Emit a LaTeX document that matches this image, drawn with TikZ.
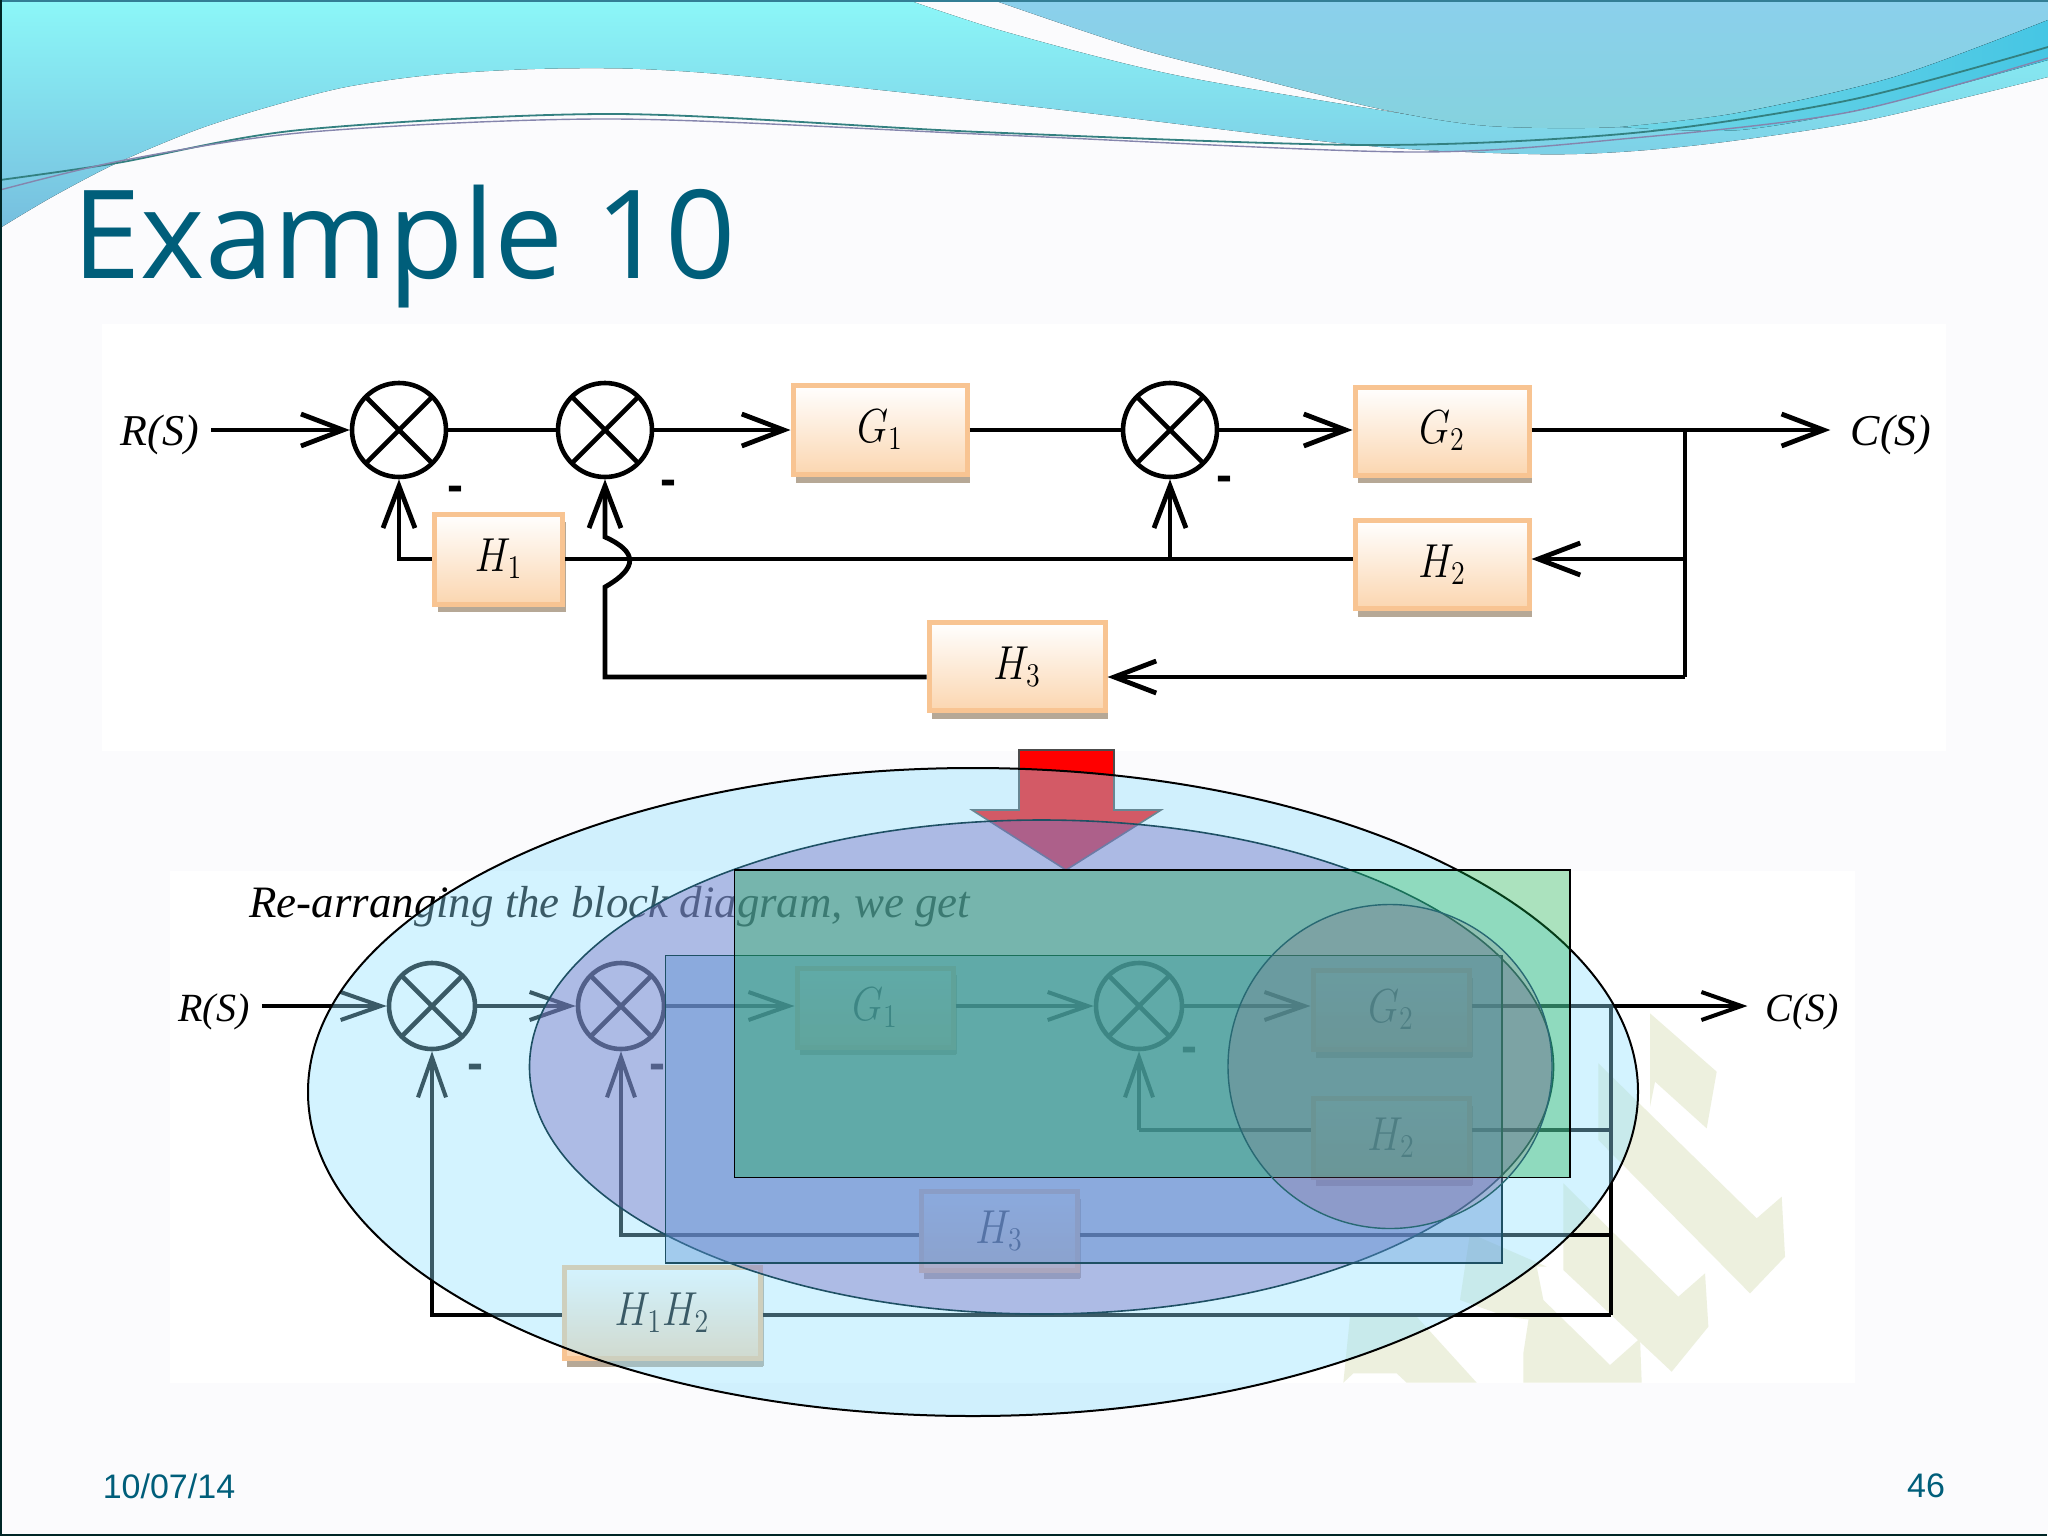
\documentclass[tikz,border=0pt]{standalone}
\usepackage{fontspec}
\usepackage{graphicx}
\setmainfont{Liberation Serif}
\newfontfamily\titlefont{Open Sans}
\newfontfamily\footfont{Liberation Sans}
\usetikzlibrary{arrows.meta,shadows}

\definecolor{slidebg}{RGB}{251,251,253}
\definecolor{tealtext}{RGB}{0,94,122}
\definecolor{wavecyan}{RGB}{140,247,248}
\definecolor{wavelow}{RGB}{118,190,222}
\definecolor{waveblue}{RGB}{139,208,236}
\definecolor{wavegreen}{RGB}{133,210,222}
\definecolor{bandleft}{RGB}{112,214,230}
\definecolor{bandright}{RGB}{70,198,228}
\definecolor{boxedge}{RGB}{248,196,146}
\definecolor{boxfill}{RGB}{251,214,176}
\definecolor{boxshade}{RGB}{182,168,150}
\definecolor{crest}{RGB}{237,240,222}
\definecolor{bigblue}{RGB}{145,225,255}
\definecolor{midviolet}{RGB}{118,105,192}
\definecolor{rectblue}{RGB}{90,145,210}
\definecolor{rectgreen}{RGB}{17,172,70}
\definecolor{roundplum}{RGB}{150,95,130}
\definecolor{overedge}{RGB}{30,80,100}
\definecolor{roundedge}{RGB}{40,105,115}

\newcommand{\gainsym}[1]{\scalebox{0.97}[1.15]{$#1$}}

\tikzstyle{block} = [rectangle, draw=boxedge, line width=2.5pt, top color=white, bottom color=boxfill, inner sep=0pt, drop shadow={shadow xshift=1.5pt, shadow yshift=-4pt, fill=boxshade, opacity=1}]
\tikzstyle{lowblock} = [block, drop shadow={shadow xshift=2pt, shadow yshift=-3.5pt, fill=boxshade, opacity=1}]
\tikzstyle{sumjoint} = [circle, draw, line width=2.3pt, minimum size=47pt, inner sep=0pt, path picture={
	\draw[line width=2.3pt] (path picture bounding box.north west) -- (path picture bounding box.south east);
	\draw[line width=2.3pt] (path picture bounding box.north east) -- (path picture bounding box.south west);}]
\tikzstyle{lowjoint} = [sumjoint, minimum size=43pt]
\tikzstyle{sig} = [font=\fontsize{22}{26}\selectfont\itshape, inner sep=6pt]
\tikzstyle{lowsig} = [font=\fontsize{20}{24}\selectfont\itshape, inner sep=6pt]
\tikzstyle{gain} = [font=\fontsize{20.74}{25}\selectfont]
\tikzstyle{minus} = [font=\footfont\bfseries\fontsize{24}{24}\selectfont, inner sep=0pt]
\tikzstyle{wire} = [line width=2.4pt]
\tikzstyle{feed} = [wire, -{Straight Barb[length=21pt,width=16pt]}]
\tikzstyle{lowwire} = [line width=2pt]
\tikzstyle{lowfeed} = [lowwire, -{Straight Barb[length=20pt,width=14pt]}]
\tikzstyle{overlay} = [draw=overedge, line width=0.8pt]

\begin{document}
\begin{tikzpicture}[x=0.5pt,y=-0.5pt]
\useasboundingbox (0,0) rectangle (2048,1536);
\fill[slidebg] (0,0) rectangle (2048,1536);

% header waves
\fill[top color=wavecyan, bottom color=wavelow] (0,0) -- (908,0) -- plot[smooth] coordinates {(908,0) (1006,32) (1175,75) (1411,115) (1489,125)} -- (1620,120) -- (2048,20) -- plot[smooth] coordinates {(2048,77) (1868,120) (1724,142) (1620,152) (1528,154) (1358,145) (1045,108) (764,78) (640,69) (535,69) (431,75) (346,87) (268,107) (196,130) (117,163) (52,197) (0,228)} -- cycle;
\fill[top color=waveblue, bottom color=wavegreen] (993,0) -- plot[smooth] coordinates {(993,0) (1136,48) (1254,78) (1385,110) (1489,126) (1620,127) (1737,113) (1894,77) (2048,20)} -- (2048,0) -- cycle;
\fill[left color=bandleft, right color=bandright] (1620,127) -- plot[smooth] coordinates {(1620,127) (1737,113) (1894,77) (2048,20)} -- plot[smooth] coordinates {(2048,60) (1880,105) (1740,130) (1620,127)} -- cycle;
\draw[teal!60!gray, line width=0.9pt] plot[smooth] coordinates {(0,180) (117,163) (300,130) (614,114) (980,132) (1371,145) (1633,133) (1850,100) (2048,47)};
\draw[blue!20!gray!80, line width=0.7pt] plot[smooth] coordinates {(0,190) (125,160) (310,132) (614,119) (1000,135) (1410,152) (1633,138) (1850,112) (2048,58)};
\draw[tealtext!80, line width=1.4pt] (0,1) -- (2048,1);

% title and footer
\node[font=\titlefont\fontsize{61.5}{66}\selectfont, text=tealtext, inner sep=0pt, anchor=base west] (title) at (72,278) {Example 10};
\node[font=\footfont\fontsize{17}{20}\selectfont, text=tealtext, inner sep=0pt] (date) at (169,1486) {10/07/14};
\node[font=\footfont\fontsize{17}{20}\selectfont, text=tealtext, inner sep=0pt] (page) at (1926,1486) {46};

% panels
\fill[white] (102,324) rectangle (1946,751);
\fill[white] (170,871) rectangle (1855,1383);
\begin{scope}[shift={(1320,1000)},x=0.16667pt,y=-0.16667pt,crest]
	\fill (990,40) -- (1190,215) -- (1160,385) -- (1005,245) -- (990,320) -- cycle;
	\fill (835,190) -- (1310,655) -- (1385,590) -- (1395,770) -- (1290,880) -- (835,420) -- cycle;
	\fill (730,550) -- (1075,890) -- (1155,820) -- (1165,980) -- (1055,1115) -- (730,810) -- cycle;
	\fill (670,900) -- (870,1095) -- (960,1015) -- (965,1148) -- (610,1148) -- (610,1060) -- (650,800) -- cycle;
	\fill (420,900) -- (450,700) -- (680,800) -- (650,800) -- (640,960) -- (560,950) -- cycle;
	\fill (70,1148) -- (100,1120) -- (230,1120) -- (260,1148) -- (470,1148) -- (290,950) -- (90,950) -- cycle;
\end{scope}

% first diagram
\node[sig] (inA) at (160,435) {R(S)};
\node[sumjoint] (sumA) at (399,430) {};
\node[sumjoint] (sumB) at (605,430) {};
\node[block, gain, minimum width=87pt, minimum height=44.5pt] (gOne) at (880,430) {\gainsym{G_1}};
\node[sumjoint] (sumC) at (1170,430) {};
\node[block, gain, minimum width=87pt, minimum height=44pt] (gTwo) at (1442,431) {\gainsym{G_2}};
\node[sig, inner sep=10pt] (outA) at (1891,435) {C(S)};
\node[block, gain, minimum width=64pt, minimum height=45pt] (hOne) at (498.5,559) {\gainsym{H_1}};
\node[block, gain, minimum width=87pt, minimum height=44pt] (hTwo) at (1442,564.5) {\gainsym{H_2}};
\node[block, gain, minimum width=88pt, minimum height=44pt] (hThree) at (1017,666.5) {\gainsym{H_3}};
\node[minus] (mA) at (455,494) {-};
\node[minus] (mB) at (668,488) {-};
\node[minus] (mC) at (1224,484) {-};
\coordinate (tapA) at (1685,430);
\coordinate (tapB) at (1685,559);
\coordinate (tapD) at (1685,677);
\coordinate (tapE) at (1170,559);
\coordinate (hopA) at (605,587);
\coordinate (hopB) at (605,537);
\draw[feed] (inA.east |- sumA) -- (sumA);
\draw[wire] (sumA) -- (sumB);
\draw[feed] (sumB) -- (gOne);
\draw[wire] (gOne) -- (sumC);
\draw[feed] (sumC) -- (gTwo.west |- sumC);
\draw[feed] (gTwo.east |- tapA) -- (outA.west |- tapA);
\draw[wire] (tapA) -- (tapD);
\draw[feed] (tapB) -- (hTwo.east |- tapB);
\draw[wire] (hTwo.west |- tapB) -- (hOne.east);
\draw[feed] (hOne.west) -| (sumA.south);
\draw[feed] (tapE) -- (sumC.south);
\draw[feed] (tapD) -- (hThree.east |- tapD);
\draw[feed] (hThree.west |- tapD) -| (hopA) .. controls (638,568) and (638,552) .. (hopB) -- (sumB.south);

% second diagram
\node[font=\fontsize{22.45}{26}\selectfont\itshape, inner sep=0pt, anchor=west] (lead) at (249,907) {Re-arranging the block diagram, we get};
\node[lowsig] (inB) at (214,1012) {R(S)};
\node[lowjoint] (sumD) at (432,1006) {};
\node[lowjoint] (sumE) at (621,1006) {};
\node[lowblock, gain, minimum width=78pt, minimum height=39.5pt] (gThree) at (875,1007.5) {\gainsym{G_1}};
\node[lowjoint] (sumF) at (1139,1006) {};
\node[lowblock, gain, minimum width=78pt, minimum height=39.5pt] (gFour) at (1391,1010) {\gainsym{G_2}};
\node[lowsig, inner sep=9pt] (outB) at (1802.5,1012) {C(S)};
\node[lowblock, gain, minimum width=78pt, minimum height=39.5pt] (hFour) at (1391,1138) {\gainsym{H_2}};
\node[lowblock, gain, minimum width=78pt, minimum height=39.5pt] (hFive) at (999,1231) {\gainsym{H_3}};
\node[lowblock, gain, minimum width=98pt, minimum height=45.5pt] (hSix) at (662,1313) {\gainsym{H_1H_2}};
\node[minus] (mD) at (475,1072) {-};
\node[minus] (mE) at (657,1072) {-};
\node[minus] (mF) at (1189,1055) {-};
\coordinate (tapF) at (1611,1006);
\coordinate (tapG) at (1611,1130);
\coordinate (tapH) at (1611,1235);
\coordinate (tapI) at (1611,1315);
\coordinate (tapJ) at (1139,1130);
\draw[lowfeed] (inB.east |- sumD) -- (sumD);
\draw[lowfeed] (sumD) -- (sumE);
\draw[lowfeed] (sumE) -- (gThree.west |- sumE);
\draw[lowfeed] (gThree.east |- sumF) -- (sumF);
\draw[lowfeed] (sumF) -- (gFour.west |- sumF);
\draw[lowfeed] (gFour.east |- tapF) -- (outB.west |- tapF);
\draw[lowwire] (tapF) -- (tapI);
\draw[lowwire] (hFour.east |- tapG) -- (tapG);
\draw[lowwire] (hFour.west |- tapJ) -- (tapJ);
\draw[lowfeed] (tapJ) -- (sumF.south);
\draw[lowwire] (hFive.east |- tapH) -- (tapH);
\draw[lowfeed] (hFive.west |- tapH) -| (sumE.south);
\draw[lowwire] (hSix.east |- tapI) -- (tapI);
\draw[lowfeed] (hSix.west |- tapI) -| (sumD.south);

% marks laid over the diagrams
\draw[fill=red, draw=black!70, line width=0.8pt] (1019,750) -- (1114,750) -- (1114,810) -- (1161,810) -- (1066,870) -- (972,810) -- (1019,810) -- cycle;
\draw[draw=black, line width=1pt, fill=bigblue, fill opacity=0.4] (973,1092) ellipse [x radius=332.5pt, y radius=162pt];
\draw[overlay, fill=midviolet, fill opacity=0.4] (1041.5,1067) ellipse [x radius=256pt, y radius=123.5pt];
\draw[overlay, fill=rectblue, fill opacity=0.4] (665.5,955.5) rectangle (1502,1263);
\draw[draw=black, line width=0.9pt, fill=rectgreen, fill opacity=0.35] (734.5,870) rectangle (1570,1177.5);
\draw[draw=roundedge, line width=0.7pt, fill=roundplum, fill opacity=0.2] (1390,1066.5) circle [radius=81pt];

% slide edge
\draw[black!70!teal, line width=0.8pt] (1,0) -- (1,1535) -- (2047,1535);
\end{tikzpicture}
\end{document}
